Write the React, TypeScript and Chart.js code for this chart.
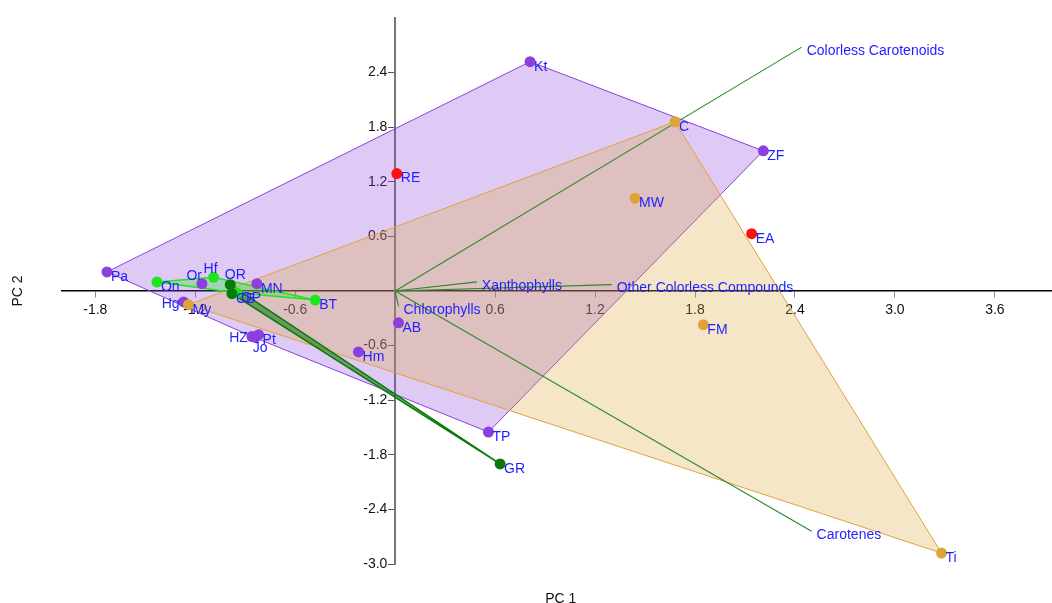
import React, { useEffect, useRef } from "react";
import { Chart, registerables } from "chart.js";

Chart.register(...registerables);

// ---- axis ticks ----
const xTicks = [-1.8, -1.2, -0.6, 0.6, 1.2, 1.8, 2.4, 3.0, 3.6];
const yTicks = [-3.0, -2.4, -1.8, -1.2, -0.6, 0.6, 1.2, 1.8, 2.4];
const xTitle = "PC 1";
const yTitle = "PC 2";

// ---- sample scores by group ----
const purpleNames = ["Pa", "Kt", "ZF", "TP", "Hm", "AB", "MN", "Or", "Hg", "HZ", "Jo", "Pt"];
const purpleX = [-1.73, 0.81, 2.21, 0.56, -0.22, 0.02, -0.83, -1.16, -1.27, -0.86, -0.84, -0.82];
const purpleY = [0.21, 2.52, 1.54, -1.55, -0.67, -0.35, 0.08, 0.08, -0.12, -0.5, -0.51, -0.48];

const orangeNames = ["C", "MW", "FM", "Ti", "My"];
const orangeX = [1.68, 1.44, 1.85, 3.28, -1.24];
const orangeY = [1.86, 1.02, -0.37, -2.88, -0.15];

const redNames = ["RE", "EA"];
const redX = [0.01, 2.14];
const redY = [1.29, 0.63];

const limeNames = ["On", "Hf", "BT", "OP"];
const limeX = [-1.43, -1.09, -0.48, -0.95];
const limeY = [0.1, 0.15, -0.1, -0.02];

const darkNames = ["OR", "CB", "GR"];
const darkX = [-0.99, -0.98, 0.63];
const darkY = [0.07, -0.03, -1.9];

// ---- loading vectors ----
const loadingNames = ["Colorless Carotenoids", "Xanthophylls", "Other Colorless Compounds", "Chlorophylls", "Carotenes"];
const loadingX = [2.44, 0.49, 1.3, 0.02, 2.5];
const loadingY = [2.68, 0.1, 0.07, -0.17, -2.64];

// label placement overrides (style only)
const labelPlace: Record<string, string> = {
  Or: "aboveLeft",
  Hf: "above",
  OR: "aboveRight",
  Hg: "left",
  HZ: "left",
  Jo: "below",
};

type P = { x: number; y: number };

function toPts(xs: number[], ys: number[]): P[] {
  return xs.map((x, i) => ({ x, y: ys[i] }));
}

function convexHull(points: P[]): P[] {
  const pts = [...points].sort((a, b) => (a.x === b.x ? a.y - b.y : a.x - b.x));
  if (pts.length < 3) return pts;
  const cross = (o: P, a: P, b: P) => (a.x - o.x) * (b.y - o.y) - (a.y - o.y) * (b.x - o.x);
  const lower: P[] = [];
  for (const p of pts) {
    while (lower.length >= 2 && cross(lower[lower.length - 2], lower[lower.length - 1], p) <= 0) lower.pop();
    lower.push(p);
  }
  const upper: P[] = [];
  for (let i = pts.length - 1; i >= 0; i--) {
    const p = pts[i];
    while (upper.length >= 2 && cross(upper[upper.length - 2], upper[upper.length - 1], p) <= 0) upper.pop();
    upper.push(p);
  }
  upper.pop();
  lower.pop();
  return lower.concat(upper);
}

const groups = [
  { names: darkNames, xs: darkX, ys: darkY, color: "#0a7a0a", fill: "rgba(10,122,10,0.55)", stroke: "#0a7a0a", lw: 1.5 },
  { names: limeNames, xs: limeX, ys: limeY, color: "#1ee61e", fill: "rgba(30,230,30,0.3)", stroke: "#1ee61e", lw: 1.5 },
  { names: orangeNames, xs: orangeX, ys: orangeY, color: "#dda43a", fill: "rgba(221,164,58,0.28)", stroke: "#dda43a", lw: 1 },
  { names: purpleNames, xs: purpleX, ys: purpleY, color: "#8b3fdc", fill: "rgba(139,63,220,0.28)", stroke: "#8b3fdc", lw: 1 },
  { names: redNames, xs: redX, ys: redY, color: "#ff1010", fill: "rgba(255,16,16,0.25)", stroke: "#ff1010", lw: 1 },
];

const FONT = "'Liberation Sans', Arial, Helvetica, sans-serif";
const LABEL_COLOR = "#1f1fff";

const labelPlugin = {
  id: "pcaLabels",
  afterDatasetsDraw(chart: any) {
    const ctx = chart.ctx;
    ctx.save();
    ctx.font = `14px ${FONT}`;
    ctx.fillStyle = LABEL_COLOR;
    chart.data.datasets.forEach((ds: any, i: number) => {
      const meta = chart.getDatasetMeta(i);
      if (ds.pointNames) {
        meta.data.forEach((el: any, j: number) => {
          const name = ds.pointNames[j];
          const place = labelPlace[name] || "default";
          let x = el.x + 4;
          let y = el.y + 5;
          let align: CanvasTextAlign = "left";
          if (place === "left") { x = el.x - 4; y = el.y + 2; align = "right"; }
          else if (place === "above") { x = el.x - 3; y = el.y - 8; align = "center"; }
          else if (place === "aboveRight") { x = el.x + 5; y = el.y - 9; align = "center"; }
          else if (place === "aboveLeft") { x = el.x; y = el.y - 8; align = "right"; }
          else if (place === "below") { x = el.x + 5; y = el.y + 11; align = "center"; }
          ctx.textAlign = align;
          ctx.textBaseline = "middle";
          ctx.fillText(name, x, y);
        });
      }
      if (ds.vectorName) {
        const el = meta.data[1];
        if (el) {
          ctx.textAlign = "left";
          ctx.textBaseline = "middle";
          ctx.fillText(ds.vectorName, el.x + 5, el.y + 4);
        }
      }
    });
    ctx.restore();
  },
  afterDraw(chart: any) {
    const ctx = chart.ctx;
    const a = chart.chartArea;
    ctx.save();
    ctx.font = `14px ${FONT}`;
    ctx.fillStyle = "#111";
    ctx.textAlign = "center";
    ctx.textBaseline = "middle";
    ctx.fillText(xTitle, (a.left + a.right) / 2 + 4, chart.height - 4);
    ctx.translate(18, (a.top + a.bottom) / 2);
    ctx.rotate(-Math.PI / 2);
    ctx.fillText(yTitle, 0, 0);
    ctx.restore();
  },
};

export default function App() {
  const ref = useRef<HTMLCanvasElement | null>(null);

  useEffect(() => {
    if (!ref.current) return;
    const datasets: any[] = [];

    // hull polygons
    groups.forEach((g) => {
      const pts = toPts(g.xs, g.ys);
      if (pts.length < 3) return;
      const h = convexHull(pts);
      datasets.push({
        type: "line",
        data: [...h, h[0]],
        showLine: true,
        fill: "shape",
        backgroundColor: g.fill,
        borderColor: g.stroke,
        borderWidth: g.lw,
        pointRadius: 0,
        tension: 0,
        order: 3,
      });
    });

    // loading vectors
    loadingNames.forEach((name, i) => {
      datasets.push({
        type: "line",
        data: [{ x: 0, y: 0 }, { x: loadingX[i], y: loadingY[i] }],
        showLine: true,
        fill: false,
        borderColor: "#2a8a2a",
        borderWidth: 1.1,
        pointRadius: 0,
        tension: 0,
        order: 2,
        vectorName: name,
      });
    });

    // points
    groups.forEach((g) => {
      datasets.push({
        type: "scatter",
        data: toPts(g.xs, g.ys),
        backgroundColor: g.color,
        borderWidth: 0,
        pointRadius: 5.5,
        order: 1,
        pointNames: g.names,
      });
    });

    Chart.defaults.font.family = FONT;

    const chart = new Chart(ref.current, {
      type: "scatter",
      data: { datasets },
      plugins: [labelPlugin],
      options: {
        responsive: false,
        animation: false,
        layout: { padding: { left: 62, right: 0, top: 18, bottom: 39 } },
        plugins: { legend: { display: false }, tooltip: { enabled: false } },
        scales: {
          x: {
            type: "linear",
            position: { y: 0 } as any,
            min: -2.0,
            max: 3.94,
            afterBuildTicks: (scale: any) => {
              scale.ticks = xTicks.map((v) => ({ value: v }));
            },
            ticks: {
              color: "#111",
              font: { size: 14, family: FONT },
              padding: 5,
              maxRotation: 0,
              autoSkip: false,
              callback: (v: any) => Number(v).toFixed(1),
            },
            grid: { drawOnChartArea: false, drawTicks: true, tickLength: 6, color: "#888" },
            border: { display: true, color: "#000", width: 1.5 },
          },
          y: {
            type: "linear",
            position: { x: 0 } as any,
            min: -3.0,
            max: 3.0,
            afterBuildTicks: (scale: any) => {
              scale.ticks = yTicks.map((v) => ({ value: v }));
            },
            ticks: {
              color: "#111",
              font: { size: 14, family: FONT },
              padding: 3,
              autoSkip: false,
              callback: (v: any) => Number(v).toFixed(1) + "  ",
            },
            grid: { drawOnChartArea: false, drawTicks: true, tickLength: 6, color: "#555" },
            border: { display: true, color: "#777", width: 2 },
          },
        },
      } as any,
    });
    return () => chart.destroy();
  }, []);

  return (
    <div style={{ position: "absolute", left: 0, top: 0, width: 1052, height: 603, overflow: "hidden", background: "#fff" }}>
      <canvas ref={ref} width={1057} height={603} style={{ display: "block" }} />
    </div>
  );
}
